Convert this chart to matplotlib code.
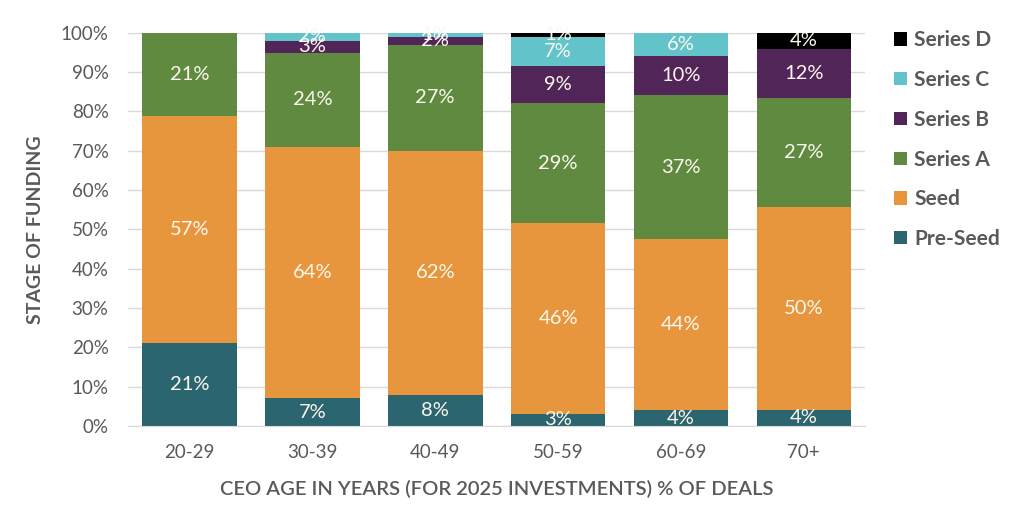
import numpy as np
import matplotlib
matplotlib.use("Agg")
import matplotlib.pyplot as plt
from matplotlib.patches import Patch

plt.rcParams['font.family'] = ['Lato', 'DejaVu Sans']

# raw shares per age group (as printed on the chart, %)
ages = ['20-29', '30-39', '40-49', '50-59', '60-69', '70+']
stages = ['Pre-Seed', 'Seed', 'Series A', 'Series B', 'Series C', 'Series D']
pre_seed = [21, 7, 8, 3, 4, 4]
seed = [57, 64, 62, 46, 44, 50]
series_a = [21, 24, 27, 29, 37, 27]
series_b = [0, 3, 2, 9, 10, 12]
series_c = [0, 2, 1, 7, 6, 0]
series_d = [0, 0, 0, 1, 0, 4]

colors = ['#2b6570', '#e8963e', '#5f8a40', '#522558', '#62c4ca', '#000000']
gray = '#595959'

data = np.array([pre_seed, seed, series_a, series_b, series_c, series_d], dtype=float)
shares = data / data.sum(axis=0) * 100  # 100% stacked, like excel does

fig = plt.figure(figsize=(10.24, 5.22), dpi=100)
ax = fig.add_axes([0.125, 0.184, 0.72, 0.753])

x = np.arange(len(ages))
bottom = np.zeros(len(ages))
for i, name in enumerate(stages):
    ax.bar(x, shares[i], 0.77, bottom=bottom, color=colors[i], zorder=2)
    for j in range(len(ages)):
        if data[i, j] > 0:
            ax.text(x[j], bottom[j] + shares[i, j] / 2, '%d%%' % data[i, j],
                    ha='center', va='center', color='#fbf8ee', fontsize=14.5, zorder=3)
    bottom += shares[i]

ax.set_xlim(-0.5, len(ages) - 0.5)
ax.set_ylim(0, 100)
ax.set_yticks(np.arange(0, 101, 10))
ax.set_yticklabels(['%d%%' % v for v in range(0, 101, 10)])
ax.set_xticks(x)
ax.set_xticklabels(ages)
ax.yaxis.grid(True, color='#d9d9d9', lw=1, zorder=0)
ax.tick_params(axis='both', length=0, labelsize=13.5, colors=gray)
ax.tick_params(axis='y', pad=14)
ax.tick_params(axis='x', pad=13)
for s in ['top', 'right', 'left']:
    ax.spines[s].set_visible(False)
ax.spines['bottom'].set_color('#d9d9d9')

ax.set_ylabel('STAGE OF FUNDING', fontsize=14, fontweight='bold', color=gray, labelpad=12)
ax.set_xlabel('CEO AGE IN YEARS (FOR 2025 INVESTMENTS) % OF DEALS', fontsize=14.5,
              fontweight='semibold', color=gray, labelpad=14)

handles = [Patch(facecolor=colors[i], label=stages[i]) for i in range(len(stages))][::-1]
leg = fig.legend(handles=handles, loc='upper left', bbox_to_anchor=(0.855, 0.978),
                 frameon=False, fontsize=15, handlelength=0.6, handleheight=0.6,
                 handletextpad=0.35, labelspacing=0.95)
for t in leg.get_texts():
    t.set_color(gray)
    t.set_fontweight('bold')

fig.savefig('out.png', dpi=100)
